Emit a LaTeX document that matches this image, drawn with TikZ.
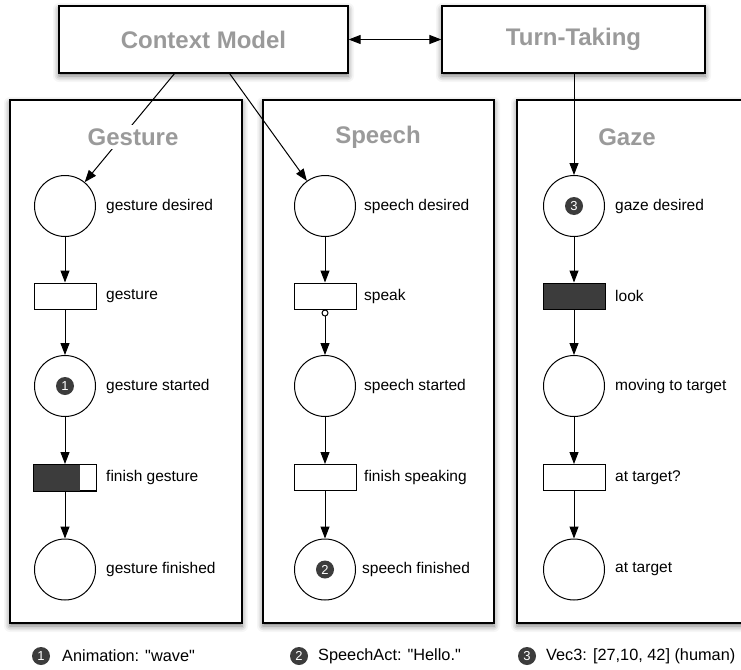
\documentclass[tikz,border=0pt]{standalone}
\usepackage{fontspec}
\setmainfont{Liberation Sans}
\usetikzlibrary{arrows.meta,shadows.blur,calc}
\definecolor{tokgray}{HTML}{3C3C3C}
\definecolor{titlegray}{HTML}{9A9A9A}
\begin{document}
\begin{tikzpicture}[x=1pt,y=-1pt,
  >={Triangle[length=12pt,width=9pt]},
  place/.style={circle, draw, line width=1pt, minimum size=61pt, inner sep=0pt, fill=white},
  trans/.style={rectangle, draw, line width=1pt, minimum width=62pt, minimum height=26pt, inner sep=0pt, fill=white},
  lbl/.style={anchor=west, inner sep=0pt, font=\fontsize{15.5}{18}\selectfont},
  leg/.style={anchor=west, inner sep=0pt, font=\fontsize{16.3}{19}\selectfont},
  token/.style={circle, fill=tokgray, minimum size=18pt, inner sep=0pt, text=white, font=\fontsize{13}{15}\selectfont},
  legtoken/.style={token, minimum size=18pt, font=\fontsize{13}{15}\selectfont},
  panel/.style={draw, line width=1.2pt, fill=white, inner sep=0pt,
    blur shadow={shadow xshift=0pt, shadow yshift=-3pt, shadow blur radius=6pt, shadow opacity=55}},
  topbox/.style={panel, text=titlegray, font=\bfseries\fontsize{24}{28}\selectfont},
  ttl/.style={font=\bfseries\fontsize{24}{28}\selectfont, text=titlegray, fill=white, inner sep=4pt},
  arr/.style={->, line width=1pt},
  darkfill/.style={fill=tokgray}
]
\clip (0,0) rectangle (741,669);
\useasboundingbox (0,0) rectangle (741,669);

% panels
\node[panel, minimum width=232pt, minimum height=523pt] (pg) at (126,361.5) {};
\node[panel, minimum width=231pt, minimum height=523pt] (ps) at (378.5,361.5) {};
\node[panel, minimum width=263pt, minimum height=523pt] (pz) at (648.5,361.5) {};

% top boxes
\node[topbox, minimum width=289pt, minimum height=67pt] (cm) at (203.5,39.5) {Context Model};
\node[topbox, minimum width=263pt, minimum height=67pt] (tt) at (573.5,39.5) {Turn-Taking};

% gesture column
\node[place] (gd) at (65,206) {};
\node[trans] (g) at (65,296) {};
\node[place] (gs) at (65,386) {};
\node[trans] (fg) at (65,477.5) {};
\node[place] (gf) at (65,569.5) {};
\fill[darkfill] (fg.south west) rectangle ($(fg.north west)!0.74!(fg.north east)$);
\draw[line width=1pt] (fg.south west) rectangle (fg.north east);
\node[token] (t1) at (gs) {1};
\node[lbl] (lgd) at (106,206) {gesture desired};
\node[lbl] (lg) at (106,296) {gesture};
\node[lbl] (lgs) at (106,386) {gesture started};
\node[lbl] (lfg) at (106,477.5) {finish gesture};
\node[lbl] (lgf) at (106,569.5) {gesture finished};

% speech column
\node[place] (sd) at (325,206) {};
\node[trans] (sp) at (325,296) {};
\node[place] (ss) at (325,386) {};
\node[trans] (fs) at (325,477.5) {};
\node[place] (sf) at (325,569.5) {};
\node[token] (t2) at (sf) {2};
\node[lbl] (lsd) at (364,206) {speech desired};
\node[lbl] (lsp) at (364,296) {speak};
\node[lbl] (lss) at (364,386) {speech started};
\node[lbl] (lfs) at (364,477.5) {finish speaking};
\node[lbl] (lsf) at (362,569.5) {speech finished};

% gaze column
\node[place] (zd) at (574,206) {};
\node[trans, fill=tokgray] (lk) at (574,296) {};
\node[place] (zm) at (574,386) {};
\node[trans] (za) at (574,477.5) {};
\node[place] (zt) at (574,569.5) {};
\node[token] (t3) at (zd) {3};
\node[lbl] (lzd) at (615,206) {gaze desired};
\node[lbl] (llk) at (615,296) {look};
\node[lbl] (lzm) at (615,386) {moving to target};
\node[lbl] (lza) at (615,477.5) {at target?};
\node[lbl] (lzt) at (615,569.5) {at target};

% arcs
\draw[arr] (gd) -- (g);
\draw[arr] (g) -- (gs);
\draw[arr] (gs) -- (fg);
\draw[arr] (fg) -- (gf);
\draw[arr] (sd) -- (sp);
\draw[{Circle[open,length=7pt,width=7pt,line width=1pt]}->, line width=1pt] (sp) -- (ss);
\draw[arr] (ss) -- (fs);
\draw[arr] (fs) -- (sf);
\draw[arr] (zd) -- (lk);
\draw[arr] (lk) -- (zm);
\draw[arr] (zm) -- (za);
\draw[arr] (za) -- (zt);

% top connectors
\coordinate (cmA) at ($(cm.south west)!0.40!(cm.south east)$);
\coordinate (cmB) at ($(cm.south west)!0.59!(cm.south east)$);
\draw[arr] (cmA) -- (gd);
\draw[arr] (cmB) -- (sd);
\draw[arr] (tt.south -| zd.north) -- (zd.north);
\draw[<->, line width=1pt] (cm.east) -- (tt.west);

% panel titles
\node[ttl] (tg) at (133,137) {Gesture};
\node[ttl] (ts) at (378,137) {Speech};
\node[ttl] (tz) at (627,137) {Gaze};

% legend
\node[legtoken] (k1) at (41,656) {1};
\node[leg] (l1) at (62,656) {Animation: \textquotedbl wave\textquotedbl};
\node[legtoken] (k2) at (299,656) {2};
\node[leg] (l2) at (318,656) {SpeechAct: \textquotedbl Hello.\textquotedbl};
\node[legtoken] (k3) at (527,656) {3};
\node[leg] (l3) at (546,656) {Vec3: [27,10, 42] (human)};
\end{tikzpicture}
\end{document}
